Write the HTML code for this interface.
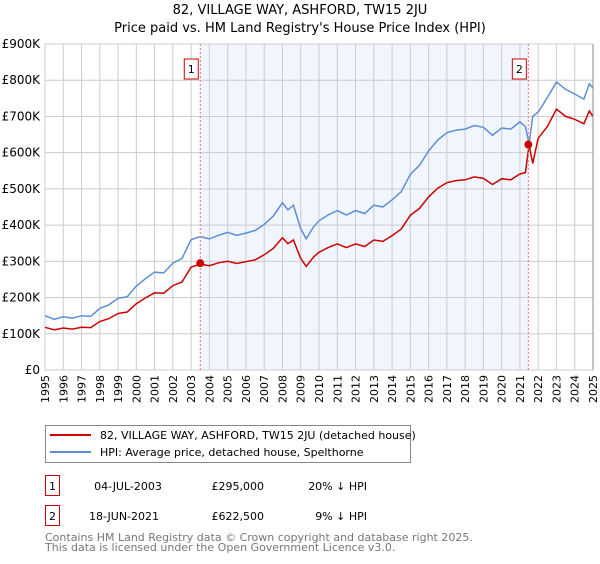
<!DOCTYPE html>
<html><head><meta charset="utf-8"><style>
body{margin:0;background:#fff;font-family:"DejaVu Sans","Liberation Sans",sans-serif;}
svg text{font-family:"DejaVu Sans","Liberation Sans",sans-serif;}
</style></head><body>
<svg id="chart" width="600" height="560" xmlns="http://www.w3.org/2000/svg">
<text x="300" y="14" text-anchor="middle" font-size="13">82, VILLAGE WAY, ASHFORD, TW15 2JU</text>
<text x="300" y="32" text-anchor="middle" font-size="13">Price paid vs. HM Land Registry's House Price Index (HPI)</text>
<g id="plot"></g>
<g>
<rect x="45.5" y="425.5" width="365" height="37" fill="#fff" stroke="#888"/>
<line x1="50" y1="435" x2="91" y2="435" stroke="#cc0000" stroke-width="2"/>
<text x="100" y="439" font-size="11">82, VILLAGE WAY, ASHFORD, TW15 2JU (detached house)</text>
<line x1="50" y1="452" x2="91" y2="452" stroke="#5b8ed6" stroke-width="2"/>
<text x="100" y="456" font-size="11">HPI: Average price, detached house, Spelthorne</text>
</g>
<g font-size="11">
<rect x="45.5" y="475.5" width="14" height="20" fill="#fff" stroke="#cc0000"/>
<text x="52.5" y="490" text-anchor="middle">1</text>
<text x="128" y="490" text-anchor="middle">04-JUL-2003</text>
<text x="264" y="490" text-anchor="end">£295,000</text>
<text x="367" y="490" text-anchor="end">20% ↓ HPI</text>
<rect x="45.5" y="505.5" width="14" height="20" fill="#fff" stroke="#cc0000"/>
<text x="52.5" y="520" text-anchor="middle">2</text>
<text x="124" y="520" text-anchor="middle">18-JUN-2021</text>
<text x="264" y="520" text-anchor="end">£622,500</text>
<text x="367" y="520" text-anchor="end">9% ↓ HPI</text>
</g>
<text x="45" y="541" font-size="11" fill="#777">Contains HM Land Registry data © Crown copyright and database right 2025.</text>
<text x="45" y="551" font-size="11" fill="#777">This data is licensed under the Open Government Licence v3.0.</text>
</svg>
<script>
const years=[1995,1995.5,1996,1996.5,1997,1997.5,1998,1998.5,1999,1999.5,2000,2000.5,2001,2001.5,2002,2002.5,2003,2003.5,2004,2004.5,2005,2005.5,2006,2006.5,2007,2007.5,2008,2008.3,2008.6,2009,2009.3,2009.7,2010,2010.5,2011,2011.5,2012,2012.5,2013,2013.5,2014,2014.5,2015,2015.5,2016,2016.5,2017,2017.5,2018,2018.5,2019,2019.5,2020,2020.5,2021,2021.3,2021.5,2021.7,2022,2022.5,2023,2023.5,2024,2024.5,2024.8,2025];
const hpi=[150,140,147,143,150,148,170,180,198,202,232,252,270,268,295,308,360,368,362,372,380,372,378,385,402,425,462,442,455,390,362,395,412,428,440,428,440,432,455,450,470,492,540,565,605,635,655,662,665,675,670,648,668,665,685,672,625,700,712,752,795,775,762,748,790,778];
const price=[118,111,116,113,118,117,134,142,156,160,183,199,213,212,233,243,284,292,288,296,300,294,299,304,318,336,365,349,359,308,286,312,325,338,348,338,348,341,359,355,371,389,427,446,478,502,517,523,525,533,529,512,528,525,541,545,622,570,640,672,720,700,692,680,715,700];
const saleYears=[2003.5,2021.46];
const saleValues=[295,622.5];
const saleLabels=["1","2"];
const yTicks=[0,100,200,300,400,500,600,700,800,900];
const yTickLabels=["£0","£100K","£200K","£300K","£400K","£500K","£600K","£700K","£800K","£900K"];
const xTicks=[1995,1996,1997,1998,1999,2000,2001,2002,2003,2004,2005,2006,2007,2008,2009,2010,2011,2012,2013,2014,2015,2016,2017,2018,2019,2020,2021,2022,2023,2024,2025];

const X0=45,X1=593,Y0=370,Y1=44;
const xs=y=>X0+(y-1995)/30*(X1-X0);
const ys=v=>Y0-v/900*(Y0-Y1);
const NS="http://www.w3.org/2000/svg";
const g=document.getElementById('plot');
function mk(t,a,p){const e=document.createElementNS(NS,t);for(const k in a)e.setAttribute(k,a[k]);(p||g).appendChild(e);return e;}

const sh=mk('rect',{x:xs(saleYears[0]),y:Y1,width:xs(saleYears[1])-xs(saleYears[0]),height:Y0-Y1,fill:'#eef3fc',opacity:0.8});



xTicks.forEach(t=>{
  const l=mk('line',{x1:xs(t),x2:xs(t),y1:Y1,y2:Y0,stroke:'#ccc'});
  
  
  const tx=mk('text',{x:0,y:0,'font-size':11,'text-anchor':'end',transform:`translate(${xs(t)+4},${Y0+5}) rotate(-90)`});
  tx.textContent=t;
  
  
});
yTicks.forEach((t,i)=>{
  const l=mk('line',{x1:X0,x2:X1,y1:ys(t),y2:ys(t),stroke:'#ccc'});
  
  
  const tx=mk('text',{x:40,y:ys(t)+4,'font-size':12,'text-anchor':'end'});
  tx.textContent=yTickLabels[i];
  
  
});

function path(vals,col,name){
  const d=vals.map((v,i)=>(i?'L':'M')+xs(years[i]).toFixed(1)+','+ys(v).toFixed(1)).join('');
  const p=mk('path',{d:d,fill:'none',stroke:col,'stroke-width':1.5});
  
  
}
path(hpi,'#5b8ed6','hpi-line');
path(price,'#cc0000','price-paid-line');

saleYears.forEach((s,i)=>{
  const l=mk('line',{x1:xs(s),x2:xs(s),y1:Y1,y2:Y0,stroke:'#f07070','stroke-dasharray':'2,2'});
  
  
  const c=mk('circle',{cx:xs(s),cy:ys(saleValues[i]),r:4,fill:'#cc0000'});
  
  
  const b=mk('rect',{x:xs(s)-16,y:59,width:14,height:20,fill:'#fff',stroke:'#cc0000'});
  
  
  const t=mk('text',{x:xs(s)-9,y:73,'font-size':11,'text-anchor':'middle'});
  t.textContent=saleLabels[i];
  
  
});
const border=mk('line',{x1:X1,x2:X1,y1:Y1,y2:Y0,stroke:'#888'});


</script>
</body></html>
